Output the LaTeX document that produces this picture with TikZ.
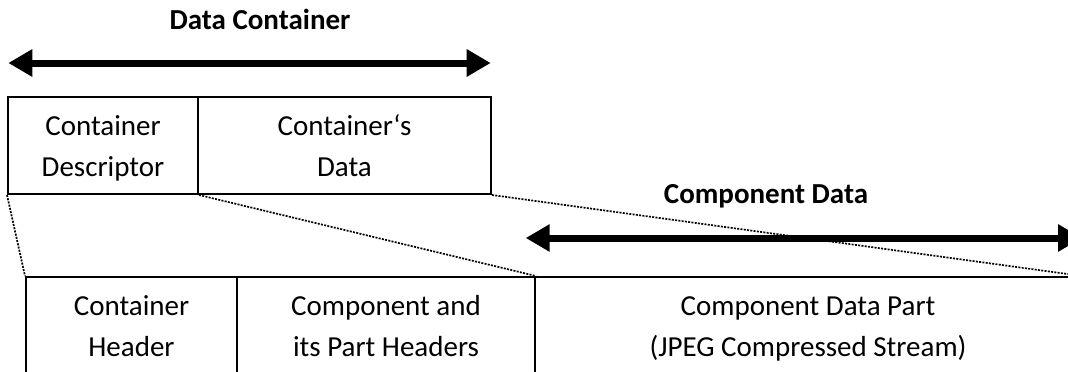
\documentclass[tikz,border=0pt]{standalone}
\usepackage{fontspec}
\setmainfont{Carlito}
\usetikzlibrary{arrows.meta}
% strut giving every text line the same height and depth
\newcommand\lnstrut{\rule[-6pt]{0pt}{32pt}}
\tikzset{
  field/.style={draw, line width=2pt, rectangle, inner sep=0pt, minimum height=97pt,
    align=center, font=\fontsize{29}{41}\selectfont},
  title/.style={font=\fontsize{29}{41}\selectfont\bfseries, anchor=base, inner sep=0pt},
  span/.style={line width=7pt, {Triangle[length=24pt,width=26pt]}-{Triangle[length=24pt,width=26pt]}},
  zoomline/.style={line width=1.7pt, dash pattern=on 2pt off 1.3pt}
}
\begin{document}
\begin{tikzpicture}[x=1pt, y=-1pt]
  \useasboundingbox (0,0) rectangle (1068,372);
  \clip (0,0) rectangle (1068,372);

  % upper level: the data container
  \node[title] (tcont) at (260,29) {Data Container};
  \coordinate (sl) at (8.3,63);
  \coordinate (sr) at (490.7,63);
  \draw[span] (sl) -- (sr);

  \node[field, minimum width=190pt] (desc) at (103,145.5)
    {\lnstrut Container\\\lnstrut Descriptor};
  \node[field, minimum width=293pt] (cdata) at (344.5,145.5)
    {\lnstrut Container‘s\\\lnstrut Data};

  % lower level: the fields of the container
  \node[title] (tcomp) at (766,203) {Component Data};
  \coordinate (cl) at (525.7,238);
  \coordinate (cr) at (1082,238);
  \draw[span] (cl) -- (cr);

  \node[field, minimum width=211pt] (chead) at (131.5,325.5)
    {\lnstrut Container\\\lnstrut Header};
  \node[field, minimum width=298pt] (phead) at (386,325.5)
    {\lnstrut Component and\\\lnstrut its Part Headers};
  \node[field, minimum width=546pt] (dpart) at (808,325.5)
    {\lnstrut Component Data Part\\\lnstrut (JPEG Compressed Stream)};

  % expansion guides
  \draw[zoomline] (desc.south west) -- (chead.north west);
  \draw[zoomline] (desc.south east) -- (phead.north east);
  \draw[zoomline] (cdata.south east) -- (dpart.north east);
\end{tikzpicture}
\end{document}
